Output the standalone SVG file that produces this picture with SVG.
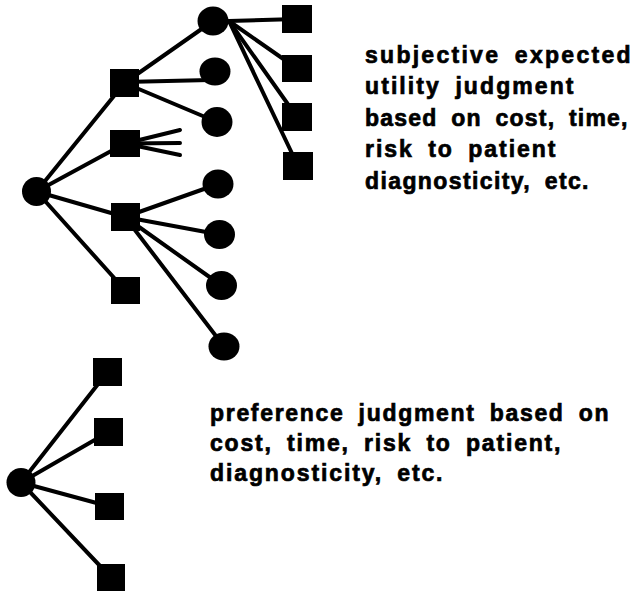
<svg xmlns="http://www.w3.org/2000/svg" width="634" height="591" viewBox="0 0 634 591">
<style>
.bg{fill:#fff}
.e{stroke:#000;stroke-width:4;stroke-linecap:round;fill:none}
.c{fill:#000}
.s{fill:#000}
.t{font-family:"Liberation Sans",Arial,sans-serif;font-weight:bold;font-size:23px;fill:#000;stroke:#000;stroke-width:0.7px;letter-spacing:1.5px;word-spacing:6px}
</style>
<rect class="bg" x="0" y="0" width="634" height="591"/>
<g id="connectors">
<line class="e" x1="36.5" y1="191.5" x2="124.5" y2="83"/>
<line class="e" x1="36.5" y1="191.5" x2="125" y2="143.5"/>
<line class="e" x1="36.5" y1="191.5" x2="125" y2="217"/>
<line class="e" x1="36.5" y1="191.5" x2="125" y2="290"/>
<line class="e" x1="124.5" y1="83" x2="213" y2="21"/>
<line class="e" x1="124.5" y1="82" x2="210" y2="80"/>
<line class="e" x1="124.5" y1="83" x2="217" y2="122"/>
<line class="e" x1="125" y1="143.5" x2="180" y2="130"/>
<line class="e" x1="125" y1="143.5" x2="180" y2="143"/>
<line class="e" x1="125" y1="143.5" x2="180" y2="155"/>
<line class="e" x1="125" y1="217" x2="218" y2="184"/>
<line class="e" x1="125" y1="217" x2="219.5" y2="234.5"/>
<line class="e" x1="125" y1="217" x2="221.5" y2="285.5"/>
<line class="e" x1="125" y1="217" x2="224" y2="346.5"/>
<line class="e" x1="229" y1="21" x2="297" y2="19"/>
<line class="e" x1="229" y1="21" x2="297" y2="68.5"/>
<line class="e" x1="229" y1="21" x2="297" y2="117"/>
<line class="e" x1="229" y1="21" x2="298" y2="166"/>
<line class="e" x1="21" y1="482.5" x2="107.5" y2="372"/>
<line class="e" x1="21" y1="482.5" x2="108.5" y2="432"/>
<line class="e" x1="21" y1="482.5" x2="109.5" y2="506.5"/>
<line class="e" x1="21" y1="482.5" x2="111" y2="577.5"/>
</g>
<g id="root1"><circle class="c" cx="36.5" cy="191.5" r="14.5"/></g>
<g id="sqA"><rect class="s" x="110" y="69" width="29" height="28"/></g>
<g id="sqB"><rect class="s" x="110" y="130" width="30" height="27"/></g>
<g id="sqC"><rect class="s" x="111" y="203" width="29" height="28"/></g>
<g id="sqD"><rect class="s" x="111" y="277" width="29" height="27"/></g>
<g id="c1"><ellipse class="c" cx="213" cy="21" rx="15.5" ry="14.5"/></g>
<g id="c2"><ellipse class="c" cx="215" cy="71.5" rx="15.5" ry="14"/></g>
<g id="c3"><ellipse class="c" cx="217" cy="122" rx="15.5" ry="15"/></g>
<g id="c4"><ellipse class="c" cx="218" cy="184" rx="15.5" ry="14.5"/></g>
<g id="c5"><ellipse class="c" cx="219.5" cy="234.5" rx="15.5" ry="14.5"/></g>
<g id="c6"><ellipse class="c" cx="221.5" cy="285.5" rx="15.5" ry="14.5"/></g>
<g id="c7"><ellipse class="c" cx="224" cy="346.5" rx="15.5" ry="14"/></g>
<g id="r1"><rect class="s" x="282" y="5" width="30" height="28"/></g>
<g id="r2"><rect class="s" x="282" y="55" width="30" height="27"/></g>
<g id="r3"><rect class="s" x="282" y="103" width="30" height="28"/></g>
<g id="r4"><rect class="s" x="283" y="152" width="30" height="28"/></g>
<g id="root2"><circle class="c" cx="21" cy="482.5" r="14.5"/></g>
<g id="b1"><rect class="s" x="93" y="358" width="29" height="28"/></g>
<g id="b2"><rect class="s" x="94" y="418" width="29" height="28"/></g>
<g id="b3"><rect class="s" x="95" y="493" width="29" height="27"/></g>
<g id="b4"><rect class="s" x="97" y="564" width="28" height="27"/></g>
<g id="label1">
<text class="t" x="365" y="63" textLength="267" lengthAdjust="spacing">subjective expected</text>
<text class="t" x="365" y="94" textLength="210" lengthAdjust="spacing">utility judgment</text>
<text class="t" x="365" y="126" textLength="264" lengthAdjust="spacing">based on cost, time,</text>
<text class="t" x="365" y="157" textLength="192" lengthAdjust="spacing">risk to patient</text>
<text class="t" x="365" y="189" textLength="225" lengthAdjust="spacing">diagnosticity, etc.</text>
</g>
<g id="label2">
<text class="t" x="210" y="421" textLength="400" lengthAdjust="spacing">preference judgment based on</text>
<text class="t" x="210" y="451" textLength="352" lengthAdjust="spacing">cost, time, risk to patient,</text>
<text class="t" x="210" y="481" textLength="234" lengthAdjust="spacing">diagnosticity, etc.</text>
</g>
</svg>
